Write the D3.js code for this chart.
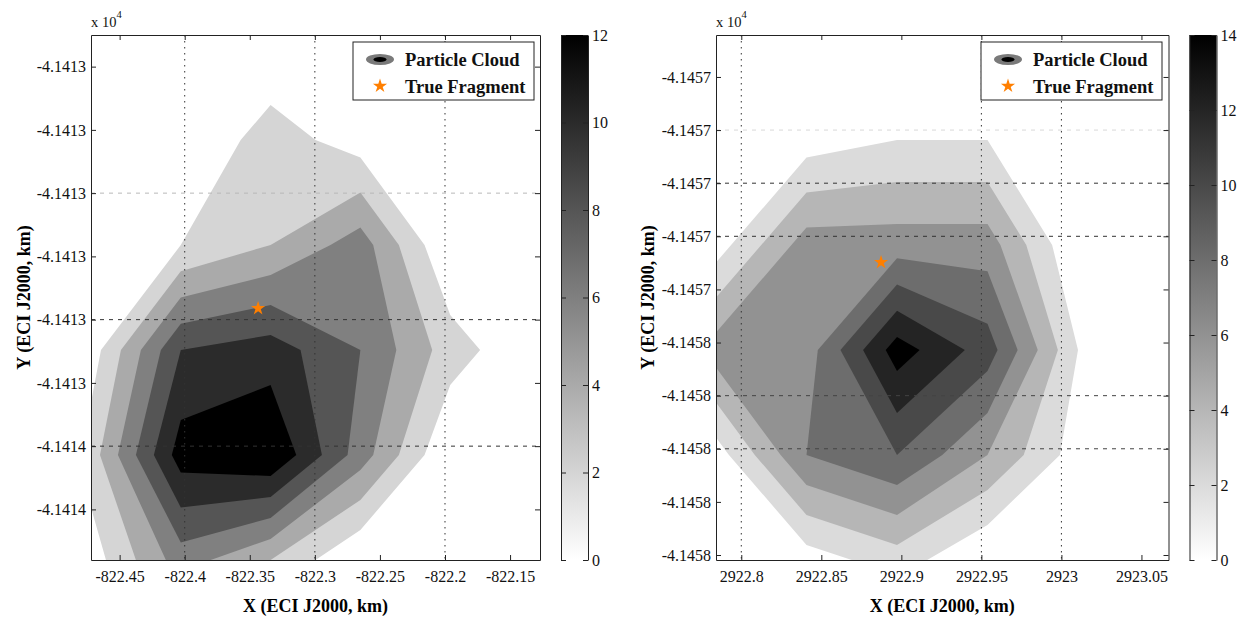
<!DOCTYPE html>
<html>
<head>
<meta charset="utf-8">
<script src="https://cdn.jsdelivr.net/npm/d3@7"></script>
<style>
  body { margin: 0; background: #fff; }
  svg { display: block; font-family: "Liberation Serif", "Times New Roman", serif; }
</style>
</head>
<body>
<div id="container"></div>
<script>
/* ---------- left panel data ---------- */
// axis limits (km) = centres of the first / last histogram bins
const leftXLim = [-822.472, -822.127];
const leftYLim = [-41413.175, -41413.590];
// particle counts per bin, top row first
const leftCounts = [
    [0, 0, 0, 0, 0, 0],
    [0, 0, 3, 1, 0, 0],
    [0, 2, 4, 7, 0, 0],
    [1, 10, 11, 8, 3, 0],
    [3, 13, 14, 7, 0, 0],
    [1, 7, 4, 0, 0, 0]
];
const leftLevels = [2, 4, 6, 8, 10, 12];
const leftXTicks = [-822.45, -822.4, -822.35, -822.3, -822.25, -822.2, -822.15];
const leftXTickLabels = ['-822.45', '-822.4', '-822.35', '-822.3', '-822.25', '-822.2', '-822.15'];
const leftYTicks = [-41413.20, -41413.25, -41413.30, -41413.35, -41413.40, -41413.45, -41413.50, -41413.55];
const leftYTickLabels = ['-4.1413', '-4.1413', '-4.1413', '-4.1413', '-4.1413', '-4.1413', '-4.1414', '-4.1414'];
const leftGridX = [-822.4, -822.3, -822.2];
const leftGridY = [-41413.30, -41413.40, -41413.50];
const leftFragment = [-822.3436, -41413.3911];
const leftColorTicks = [0, 2, 4, 6, 8, 10, 12];

/* ---------- right panel data ---------- */
const rightXLim = [2922.7842, 2923.0669];
const rightYLim = [-41457.1605, -41457.6547];
const rightCounts = [
    [0, 0, 0, 0, 0, 0],
    [0, 1, 2, 2, 0, 0],
    [1, 7, 7, 7, 0, 0],
    [7, 7, 15, 11, 2, 0],
    [1, 8, 10, 6, 1, 0],
    [0, 1, 3, 0, 0, 0]
];
const rightLevels = [2, 4, 6, 8, 10, 12, 14];
const rightXTicks = [2922.8, 2922.85, 2922.9, 2922.95, 2923, 2923.05];
const rightXTickLabels = ['2922.8', '2922.85', '2922.9', '2922.95', '2923', '2923.05'];
const rightYTicks = [-41457.20, -41457.25, -41457.30, -41457.35, -41457.40, -41457.45, -41457.50, -41457.55, -41457.60, -41457.65];
const rightYTickLabels = ['-4.1457', '-4.1457', '-4.1457', '-4.1457', '-4.1457', '-4.1458', '-4.1458', '-4.1458', '-4.1458', '-4.1458'];
const rightGridX = [2922.8, 2922.95, 2923];
const rightGridY = [-41457.25, -41457.30, -41457.35, -41457.50, -41457.55];
const rightFragment = [2922.8873, -41457.3745];
const rightColorTicks = [0, 2, 4, 6, 8, 10, 12, 14];

const legendLabels = ['Particle Cloud', 'True Fragment'];

const FONT = '"Liberation Serif", "Times New Roman", serif';

const svg = d3.select('#container')
    .append('svg')
    .attr('width', 1247)
    .attr('height', 617);

const defs = svg.append('defs');

const panels = [
    {
        box: { left: 91, right: 540, top: 35, bottom: 560 },
        bar: { left: 561, right: 588 },
        legendX: 353, ylabelX: 30,
        xLim: leftXLim, yLim: leftYLim, counts: leftCounts, levels: leftLevels,
        xTicks: leftXTicks, xTickLabels: leftXTickLabels,
        yTicks: leftYTicks, yTickLabels: leftYTickLabels,
        gridX: leftGridX, gridY: leftGridY, gridYColor: ['#b8b8b8', '#333', '#333'],
        fragment: leftFragment, colorTicks: leftColorTicks
    },
    {
        box: { left: 716, right: 1168.5, top: 35, bottom: 560 },
        bar: { left: 1189.5, right: 1216.5 },
        legendX: 981, ylabelX: 654,
        xLim: rightXLim, yLim: rightYLim, counts: rightCounts, levels: rightLevels,
        xTicks: rightXTicks, xTickLabels: rightXTickLabels,
        yTicks: rightYTicks, yTickLabels: rightYTickLabels,
        gridX: rightGridX, gridY: rightGridY, gridYColor: ['#d8d8d8', '#333', '#333', '#444', '#444'],
        fragment: rightFragment, colorTicks: rightColorTicks
    }
];

const styleAxis = sel => {
    sel.attr('font-family', FONT).attr('font-size', 16).attr('color', '#222');
    sel.selectAll('text').attr('fill', '#111').attr('font-family', FONT);
};

const drawPanel = (p, idx) => {
    const g = svg.append('g');
    const b = p.box;
    const cMax = p.colorTicks[p.colorTicks.length - 1];

    const x = d3.scaleLinear().domain(p.xLim).range([b.left, b.right]);
    const y = d3.scaleLinear().domain(p.yLim).range([b.top, b.bottom]);
    const shade = d3.scaleLinear().domain([0, cMax]).range(['#ffffff', '#000000']);

    defs.append('clipPath').attr('id', 'clip' + idx)
        .append('rect')
        .attr('x', b.left).attr('y', b.top)
        .attr('width', b.right - b.left).attr('height', b.bottom - b.top);

    // contour bands, grid padded by one bin on each side so edges stay open
    const rows = p.counts.length, cols = p.counts[0].length;
    const values = [];
    for (let r = -1; r <= rows; r++) {
        for (let c = -1; c <= cols; c++) {
            const rr = Math.max(0, Math.min(rows - 1, r));
            const cc = Math.max(0, Math.min(cols - 1, c));
            values.push(p.counts[rr][cc]);
        }
    }
    const gx = d3.scaleLinear().domain([1.5, cols + 0.5]).range(p.xLim);
    const gy = d3.scaleLinear().domain([1.5, rows + 0.5]).range(p.yLim);
    const path = d3.geoPath(d3.geoTransform({
        point: function (px, py) { this.stream.point(x(gx(px)), y(gy(py))); }
    }));
    const bands = d3.contours().size([cols + 2, rows + 2]).thresholds(p.levels)(values);

    const plot = g.append('g').attr('clip-path', `url(#clip${idx})`);
    plot.append('rect')
        .attr('x', b.left).attr('y', b.top)
        .attr('width', b.right - b.left).attr('height', b.bottom - b.top)
        .attr('fill', '#fff');
    plot.selectAll('path.band')
        .data(bands)
        .join('path')
        .attr('class', 'band')
        .attr('d', path)
        .attr('fill', d => shade(d.value));

    // grid
    plot.selectAll('line.gx')
        .data(p.gridX)
        .join('line')
        .attr('x1', d => x(d)).attr('x2', d => x(d))
        .attr('y1', b.top).attr('y2', b.bottom)
        .attr('stroke', '#333').attr('stroke-width', 1)
        .attr('stroke-dasharray', '1.5,4.5');
    plot.selectAll('line.gy')
        .data(p.gridY)
        .join('line')
        .attr('x1', b.left).attr('x2', b.right)
        .attr('y1', d => y(d)).attr('y2', d => y(d))
        .attr('stroke', (d, i) => p.gridYColor[i]).attr('stroke-width', 1)
        .attr('stroke-dasharray', '4,5');

    // true fragment
    plot.append('path')
        .attr('d', d3.symbol(d3.symbolStar, 62)())
        .attr('transform', `translate(${x(p.fragment[0])},${y(p.fragment[1])})`)
        .attr('fill', '#ff7f00');

    // axes (ticks inward, box all round)
    g.append('g').attr('transform', `translate(0,${b.bottom})`)
        .call(d3.axisBottom(x).tickValues(p.xTicks).tickFormat((d, i) => p.xTickLabels[i])
            .tickSizeInner(-5).tickSizeOuter(0).tickPadding(11))
        .call(styleAxis);
    g.append('g').attr('transform', `translate(0,${b.top})`)
        .call(d3.axisTop(x).tickValues(p.xTicks).tickFormat('')
            .tickSizeInner(-5).tickSizeOuter(0))
        .call(styleAxis);
    g.append('g').attr('transform', `translate(${b.left},0)`)
        .call(d3.axisLeft(y).tickValues(p.yTicks).tickFormat((d, i) => p.yTickLabels[i])
            .tickSizeInner(-5).tickSizeOuter(0).tickPadding(5))
        .call(styleAxis);
    g.append('g').attr('transform', `translate(${b.right},0)`)
        .call(d3.axisRight(y).tickValues(p.yTicks).tickFormat('')
            .tickSizeInner(-5).tickSizeOuter(0))
        .call(styleAxis);

    // exponent
    const ex = g.append('text')
        .attr('x', b.left).attr('y', 27)
        .attr('font-size', 14.5).attr('fill', '#111');
    ex.append('tspan').text('x 10');
    ex.append('tspan').attr('dy', -9).attr('font-size', 10.5).text('4');

    // axis labels
    g.append('text')
        .attr('x', (b.left + b.right) / 2).attr('y', 612)
        .attr('text-anchor', 'middle')
        .attr('font-size', 18).attr('font-weight', 'bold')
        .text('X (ECI J2000, km)');
    g.append('text')
        .attr('transform', `translate(${p.ylabelX},${(b.top + b.bottom) / 2}) rotate(-90)`)
        .attr('text-anchor', 'middle')
        .attr('font-size', 18).attr('font-weight', 'bold')
        .text('Y (ECI J2000, km)');

    // colorbar
    const gradId = 'grad' + idx;
    const grad = defs.append('linearGradient').attr('id', gradId)
        .attr('x1', 0).attr('y1', 1).attr('x2', 0).attr('y2', 0);
    grad.append('stop').attr('offset', 0).attr('stop-color', shade(0));
    grad.append('stop').attr('offset', 1).attr('stop-color', shade(cMax));

    const cy = d3.scaleLinear().domain([0, cMax]).range([b.bottom, b.top]);
    g.append('rect')
        .attr('x', p.bar.left).attr('y', b.top)
        .attr('width', p.bar.right - p.bar.left).attr('height', b.bottom - b.top)
        .attr('fill', `url(#${gradId})`);
    g.append('g').attr('transform', `translate(${p.bar.right},0)`)
        .call(d3.axisRight(cy).tickValues(p.colorTicks)
            .tickSizeInner(-5).tickSizeOuter(0).tickPadding(4))
        .call(styleAxis);
    g.append('g').attr('transform', `translate(${p.bar.left},0)`)
        .call(d3.axisLeft(cy).tickValues(p.colorTicks).tickFormat('')
            .tickSizeInner(-5).tickSizeOuter(0))
        .call(styleAxis);

    // legend
    const lg = g.append('g').attr('transform', `translate(${p.legendX},42)`);
    lg.append('rect')
        .attr('width', 181).attr('height', 58)
        .attr('fill', '#fff').attr('stroke', '#222').attr('stroke-width', 1);
    lg.append('ellipse').attr('cx', 27).attr('cy', 17.5).attr('rx', 14).attr('ry', 5.5).attr('fill', '#7a7a7a');
    lg.append('ellipse').attr('cx', 27).attr('cy', 17.5).attr('rx', 6.5).attr('ry', 2.6).attr('fill', '#000');
    lg.append('path')
        .attr('d', d3.symbol(d3.symbolStar, 62)())
        .attr('transform', 'translate(27,44)')
        .attr('fill', '#ff7f00');
    lg.selectAll('text')
        .data(legendLabels)
        .join('text')
        .attr('x', 52).attr('y', (d, i) => 24 + i * 27)
        .attr('font-size', 18.5).attr('font-weight', 'bold')
        .attr('fill', '#111')
        .text(d => d);
};

panels.forEach(drawPanel);
</script>
</body>
</html>
